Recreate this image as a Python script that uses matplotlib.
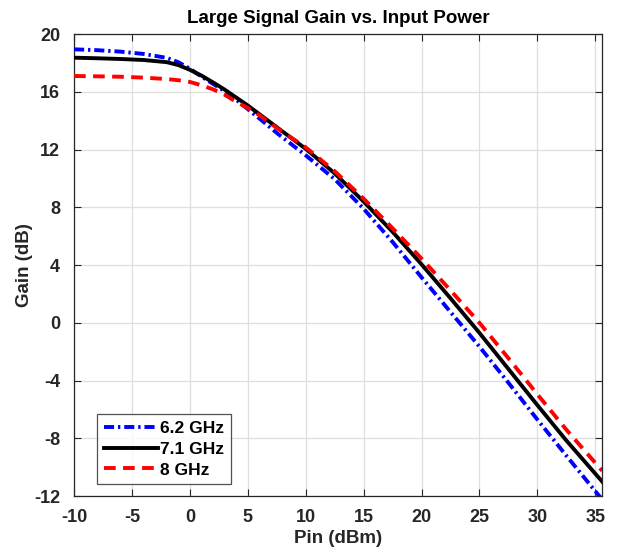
import matplotlib
matplotlib.use("Agg")
import matplotlib.pyplot as plt

pin = [-10, -8, -6, -4, -2, -1, 0, 1, 2, 3, 4, 5, 6, 7.5, 10, 12.5, 15, 17.5,
       20, 22.5, 25, 27.5, 30, 32.5, 35.6]
gain_62 = [18.94, 18.88, 18.78, 18.62, 18.35, 18.05, 17.6, 17.05, 16.55, 16.05,
           15.45, 14.8, 14.15, 13.15, 11.6, 9.95, 7.9, 5.6, 3.15, 0.75, -1.65,
           -4.15, -6.7, -9.2, -12.25]
gain_71 = [18.36, 18.32, 18.27, 18.2, 18.05, 17.85, 17.52, 17.12, 16.65, 16.15,
           15.6, 15.05, 14.45, 13.55, 12.05, 10.35, 8.4, 6.3, 4.05, 1.7, -0.7,
           -3.2, -5.7, -8.15, -11.0]
gain_80 = [17.09, 17.07, 17.04, 16.98, 16.88, 16.8, 16.68, 16.45, 16.17, 15.8,
           15.3, 14.88, 14.38, 13.5, 12.15, 10.5, 8.6, 6.55, 4.45, 2.25, 0.0,
           -2.45, -4.95, -7.4, -10.25]
labels = ["6.2 GHz", "7.1 GHz", "8 GHz"]
xticks = [-10, -5, 0, 5, 10, 15, 20, 25, 30, 35]
yticks = [-12, -8, -4, 0, 4, 8, 12, 16, 20]

plt.rcParams['font.family'] = ['Liberation Sans', 'DejaVu Sans']
plt.rcParams['font.weight'] = 'bold'

fig = plt.figure(figsize=(6.17, 5.53), dpi=100)
ax = fig.add_axes([0.12, 0.103, 0.976 - 0.12, 0.9385 - 0.103])

lw = 2.8
ax.plot(pin, gain_62, color='#0000ff', lw=lw, linestyle=(0, (2.6, 1.0, 0.6, 1.0)),
        label=labels[0], zorder=3)
ax.plot(pin, gain_71, color='black', lw=lw, linestyle='-', label=labels[1], zorder=3)
ax.plot(pin, gain_80, color='#ff0000', lw=lw, linestyle=(0, (3.0, 1.9)),
        label=labels[2], zorder=3)

ax.set_xlim(-10, 35.6)
ax.set_ylim(-12, 20)
ax.set_xticks(xticks)
ax.set_yticks(yticks)
ax.set_xticklabels([str(t) for t in xticks])
ax.set_yticklabels([str(t) for t in yticks])
ax.tick_params(direction='in', length=5, width=0.8, labelsize=13, top=True,
               right=True, labeltop=False, labelright=False, colors='#262626')
ax.tick_params(axis='x', pad=9)
ax.tick_params(axis='y', pad=10)
for lab in ax.get_xticklabels() + ax.get_yticklabels():
    lab.set_fontweight('bold')
    lab.set_color('#262626')
ax.grid(True, color='#dfdfdf', linewidth=0.9)
ax.set_axisbelow(True)
for s in ax.spines.values():
    s.set_color('#262626')
    s.set_linewidth(0.9)

ax.set_title("Large Signal Gain vs. Input Power", fontsize=13.5, fontweight='bold',
             pad=8)
ax.set_xlabel("Pin (dBm)", fontsize=13.5, fontweight='bold', color='#262626', labelpad=3)
ax.set_ylabel("Gain (dB)", fontsize=13.5, fontweight='bold', color='#262626', labelpad=1)

leg = ax.legend(loc='lower left', bbox_to_anchor=(0.044, 0.025), fontsize=12.5,
                frameon=True, fancybox=False, handlelength=3.1, handletextpad=0.1,
                borderpad=0.4, labelspacing=0.32, borderaxespad=0)
leg.get_frame().set_edgecolor('#262626')
leg.get_frame().set_linewidth(0.9)
for t in leg.get_texts():
    t.set_fontweight('bold')

fig.savefig("out.png", dpi=100)
